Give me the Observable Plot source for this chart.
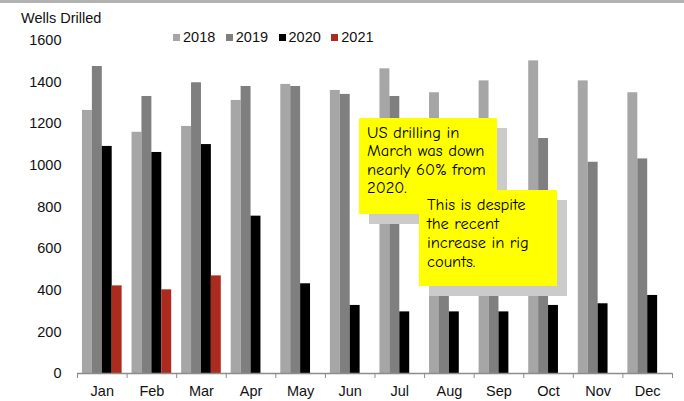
<!DOCTYPE html>
<html><head><meta charset="utf-8">
<script src="https://cdn.jsdelivr.net/npm/d3@7"></script>
<script src="https://cdn.jsdelivr.net/npm/@observablehq/plot@0.6"></script>
<style>
body{margin:0;background:#fff;}
#wrap{position:relative;width:684px;height:401px;overflow:hidden;font-family:"Liberation Sans",Arial,sans-serif;color:#111;}
#wrap svg{position:absolute;left:0;top:0;}
.topbar{position:absolute;left:0;top:0;width:684px;height:3px;background:#b3b3b3;}
.title{position:absolute;left:21px;top:10px;font-size:14.5px;line-height:17px;}
.legend{position:absolute;left:173px;top:29px;display:flex;align-items:center;font-size:14.5px;line-height:17px;}
.legend .item{display:flex;align-items:center;margin-right:10.5px;}
.legend .sw{width:7px;height:7px;margin-right:3px;}
.note{position:absolute;background:#ffff00;font-family:"Comic Sans MS","Comic Neue","Noto Sans",sans-serif;font-size:16.5px;color:#000;box-sizing:border-box;white-space:nowrap;padding-left:8px;}
.shadow{position:absolute;background:#cbcbcb;}
</style></head>
<body>
<div id="wrap"></div>
<script>
const months = ["Jan","Feb","Mar","Apr","May","Jun","Jul","Aug","Sep","Oct","Nov","Dec"];
const years = ["2018","2019","2020","2021"];
const yearColors = ["#a6a6a6","#7f7f7f","#000000","#ad2b1e"];
const wells2018 = [1264,1159,1187,1312,1389,1360,1464,1349,1406,1502,1406,1349];
const wells2019 = [1475,1331,1397,1379,1379,1341,1331,1210,1150,1129,1015,1031];
const wells2020 = [1091,1062,1100,756,431,327,296,296,296,327,335,375];
const wells2021 = [421,402,469];
const yTicks = [0,200,400,600,800,1000,1200,1400,1600];
const titleText = "Wells Drilled";
const note1 = ["US drilling in","March was down","nearly 60% from","2020."];
const note2 = ["This is despite","the recent","increase in rig","counts."];

const series = [wells2018, wells2019, wells2020, wells2021];
const rows = [];
series.forEach((vals, yi) => vals.forEach((v, mi) => rows.push({month: months[mi], mi, year: years[yi], yi, value: v})));

const groupPad = 0.1, barW = 0.2;

const chart = Plot.plot({
  width: 684, height: 401,
  marginTop: 40, marginBottom: 28, marginLeft: 77, marginRight: 12,
  x: {type: "linear", domain: [0, months.length]},
  y: {domain: [0, 1600]},
  color: {domain: years, range: yearColors},
  style: {fontFamily: "'Liberation Sans', Arial, sans-serif", fontSize: "14.5px", color: "#111", background: "transparent"},
  marks: [
    Plot.rect(rows, {
      x1: d => d.mi + groupPad + d.yi * barW,
      x2: d => d.mi + groupPad + (d.yi + 1) * barW,
      y1: 0, y2: "value", fill: "year"
    }),
    Plot.ruleY([0], {stroke: "#8c8c8c", strokeWidth: 1.5}),
    Plot.axisY({ticks: yTicks, tickSize: 0, tickPadding: 16, tickFormat: d3.format("d"), label: null}),
    Plot.axisX({ticks: d3.range(0, months.length + 1), tickSize: 5, tickFormat: () => "", stroke: "#8c8c8c", label: null}),
    Plot.axisX({ticks: months.map((m, i) => i + 0.5), tickSize: 0, tickPadding: 12, tickFormat: v => months[Math.floor(v)], label: null})
  ]
});

const wrap = document.getElementById("wrap");
wrap.appendChild(chart);

const topBar = document.createElement("div"); topBar.className = "topbar"; wrap.appendChild(topBar);
const titleEl = document.createElement("div"); titleEl.className = "title"; titleEl.textContent = titleText; wrap.appendChild(titleEl);
const lg = document.createElement("div"); lg.className = "legend";
years.forEach((y, i) => {
  const it = document.createElement("div"); it.className = "item";
  const sw = document.createElement("div"); sw.className = "sw"; sw.style.background = yearColors[i];
  const tx = document.createElement("span"); tx.textContent = y;
  it.appendChild(sw); it.appendChild(tx); lg.appendChild(it);
});
wrap.appendChild(lg);

function addNote(lines, left, topY, w, h, padTop, lh) {
  const s = document.createElement("div"); s.className = "shadow";
  Object.assign(s.style, {left: (left + 10) + "px", top: (topY + 10) + "px", width: w + "px", height: h + "px"});
  wrap.appendChild(s);
  const n = document.createElement("div"); n.className = "note";
  Object.assign(n.style, {left: left + "px", top: topY + "px", width: w + "px", height: h + "px", paddingTop: padTop + "px", lineHeight: lh + "px"});
  n.innerHTML = lines.join("<br>");
  wrap.appendChild(n);
}
addNote(note1, 359, 118, 138, 96, 6, 18.4);
addNote(note2, 419, 190, 138, 96, 6, 18.9);
</script>
</body></html>
